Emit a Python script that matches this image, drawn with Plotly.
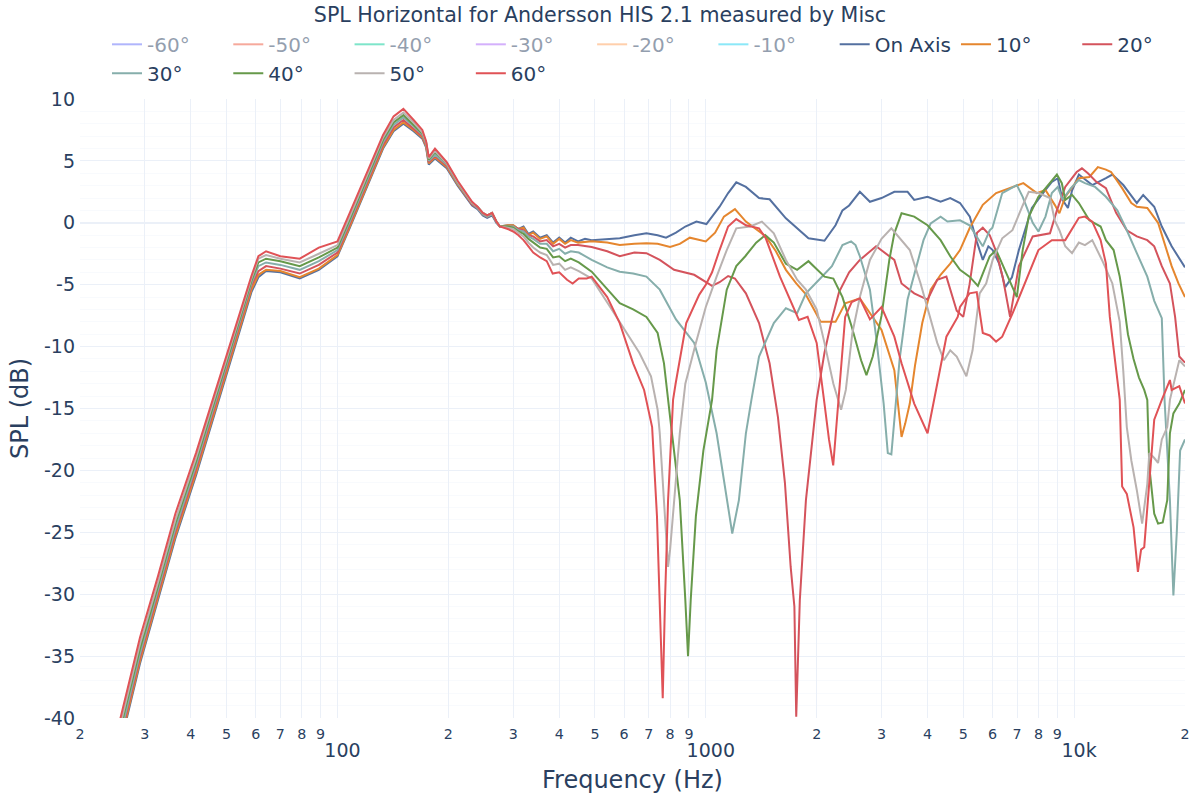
import plotly.graph_objects as go

TITLE = "SPL Horizontal for Andersson HIS 2.1 measured by Misc"

# ---------------- shared low-frequency grid (Hz) ----------------
FREQ_LOW = [25, 26.5, 29.1, 32.6, 36.3, 41.3, 46.5, 52.2, 58.4, 61,
            64, 70, 79, 89, 100, 108, 116, 125, 133, 142,
            151, 161, 170, 174, 177, 184, 198, 212, 222, 232,
            240, 248, 255, 263, 270, 276, 290, 300]

SPL_LOW_ON_AXIS = [-43.5, -40.6, -35.6, -30.5, -25.5, -20.4, -15.4, -10.4, -5.6, -4.4,
                   -3.9, -4.0, -4.5, -3.8, -2.7, -0.4, 1.8, 4.0, 6.0, 7.4,
                   8.0, 7.4, 6.8, 6.1, 4.7, 5.2, 4.4, 3.0, 2.2, 1.4,
                   1.1, 0.6, 0.4, 0.6, 0.0, -0.3, -0.2, -0.2]
SPL_LOW_10 = [-43.3, -40.4, -35.4, -30.3, -25.3, -20.2, -15.2, -10.2, -5.4, -4.2,
              -3.8, -3.9, -4.4, -3.7, -2.6, -0.3, 1.9, 4.1, 6.1, 7.5,
              8.1, 7.5, 6.9, 6.2, 4.8, 5.3, 4.5, 3.1, 2.3, 1.5,
              1.2, 0.7, 0.5, 0.7, 0.1, -0.3, -0.2, -0.2]
SPL_LOW_20 = [-43.0, -40.1, -35.1, -30.0, -25.0, -19.9, -14.9, -9.9, -5.1, -3.9,
              -3.5, -3.7, -4.1, -3.4, -2.4, -0.1, 2.1, 4.3, 6.3, 7.7,
              8.3, 7.6, 7.0, 6.3, 4.9, 5.4, 4.6, 3.2, 2.3, 1.5,
              1.2, 0.7, 0.5, 0.7, 0.1, -0.3, -0.3, -0.3]
SPL_LOW_30 = [-42.7, -39.8, -34.8, -29.7, -24.7, -19.6, -14.6, -9.6, -4.9, -3.5,
              -3.2, -3.4, -3.8, -3.1, -2.2, 0.1, 2.3, 4.5, 6.5, 7.9,
              8.5, 7.8, 7.1, 6.4, 5.0, 5.5, 4.7, 3.2, 2.4, 1.6,
              1.2, 0.7, 0.5, 0.7, 0.1, -0.3, -0.3, -0.3]
SPL_LOW_40 = [-42.4, -39.4, -34.4, -29.3, -24.3, -19.3, -14.3, -9.4, -4.7, -3.2,
              -2.9, -3.1, -3.5, -2.8, -2.0, 0.3, 2.5, 4.7, 6.7, 8.1,
              8.7, 7.9, 7.2, 6.5, 5.1, 5.7, 4.8, 3.3, 2.4, 1.6,
              1.3, 0.8, 0.6, 0.8, 0.1, -0.3, -0.3, -0.4]
SPL_LOW_50 = [-42.1, -39.0, -34.0, -29.0, -24.0, -19.0, -14.0, -9.2, -4.5, -2.9,
              -2.6, -2.9, -3.2, -2.5, -1.8, 0.5, 2.7, 4.9, 6.9, 8.3,
              8.9, 8.1, 7.3, 6.5, 5.2, 5.8, 4.8, 3.3, 2.4, 1.6,
              1.3, 0.8, 0.6, 0.8, 0.1, -0.3, -0.4, -0.5]
SPL_LOW_60 = [-41.6, -38.5, -33.5, -28.5, -23.5, -18.6, -13.7, -8.9, -4.3, -2.7,
              -2.3, -2.7, -2.9, -2.0, -1.5, 0.8, 3.0, 5.2, 7.1, 8.6,
              9.2, 8.3, 7.5, 6.6, 5.3, 6.0, 4.9, 3.4, 2.5, 1.7,
              1.3, 0.8, 0.6, 0.8, 0.1, -0.3, -0.5, -0.7]

# ---------------- above 300 Hz: per-angle grids ----------------
FREQ_HI_ON_AXIS = [310, 320, 330, 340, 355, 370, 385, 400, 415, 430,
                   450, 470, 490, 540, 584, 640, 690, 740, 780, 830,
                   880, 943, 1004, 1090, 1150, 1210, 1285, 1395, 1490, 1650,
                   1790, 1900, 2100, 2250, 2350, 2450, 2620, 2790, 3000, 3250,
                   3530, 3680, 4000, 4340, 4610, 4900, 5210, 5440, 5650, 5850,
                   6010, 6260, 6500, 6780, 7080, 7680, 8360, 8700, 9030, 9300,
                   9620, 9870, 10300, 11200, 12200, 12700, 13600, 14800, 15400, 16500,
                   17300, 18400, 20000]
SPL_HI_ON_AXIS = [-0.5, -0.3, -0.9, -0.7, -1.2, -1.0, -1.6, -1.2, -1.6, -1.2,
                  -1.5, -1.3, -1.4, -1.3, -1.25, -1.0, -0.85, -1.0, -1.2, -0.8,
                  -0.3, 0.1, -0.1, 1.3, 2.4, 3.27, 2.9, 2.0, 1.9, 0.36,
                  -0.6, -1.25, -1.45, -0.2, 1.0, 1.4, 2.5, 1.7, 2.0, 2.5,
                  2.5, 1.85, 2.1, 1.7, 2.0, 1.6, 0.5, -1.5, -3.0, -1.9,
                  -2.2, -3.3, -5.2, -4.4, -2.2, 1.2, 2.65, 3.3, 3.6, 1.85,
                  1.2, 2.6, 3.9, 3.05, 3.6, 3.9, 3.05, 1.6, 2.25, 1.3,
                  -0.3, -1.9, -3.6]

FREQ_HI_10 = [310, 320, 330, 340, 355, 370, 385, 400, 415, 430,
              450, 490, 540, 584, 640, 690, 740, 800, 850, 905,
              1000, 1060, 1120, 1200, 1285, 1395, 1455, 1550, 1650, 1760,
              1860, 1950, 2050, 2250, 2390, 2620, 2790, 3000, 3250, 3330,
              3400, 3480, 3580, 3700, 3870, 4080, 4340, 4610, 4900, 5210,
              5650, 6140, 6690, 7280, 7920, 8360, 8860, 9120, 9460, 9870,
              10300, 11000, 11600, 12200, 12600, 13500, 14300, 14800, 15800, 16900,
              17500, 18400, 19200, 20000]
SPL_HI_10 = [-0.5, -0.4, -1.0, -0.8, -1.3, -1.1, -1.7, -1.3, -1.7, -1.4,
             -1.6, -1.5, -1.6, -1.8, -1.7, -1.65, -1.7, -1.95, -1.7, -1.2,
             -1.5, -0.8, 0.5, 1.1, 0.1, -0.7, -1.1, -2.3, -3.8, -4.9,
             -5.7, -6.8, -8.0, -8.0, -6.5, -6.1, -7.3, -8.65, -11.9, -14.8,
             -17.3, -16.2, -14.6, -11.5, -8.1, -5.4, -4.2, -3.3, -2.2, -0.4,
             1.45, 2.4, 2.8, 3.2, 2.4, 2.65, 1.45, 0.77, 2.1, 2.9,
             3.6, 3.7, 4.5, 4.3, 4.1, 2.8, 1.6, 1.3, 1.2, 0.0,
             -1.5, -3.5, -4.9, -6.0]

FREQ_HI_20 = [310, 320, 330, 340, 355, 370, 385, 400, 415, 430,
              450, 490, 540, 584, 640, 690, 750, 820, 930, 1040,
              1090, 1150, 1200, 1285, 1395, 1490, 1570, 1640, 1700, 1740,
              1760, 1800, 1870, 2000, 2100, 2200, 2300, 2450, 2620, 2900,
              3250, 3400, 3680, 4000, 4250, 4500, 4800, 5000, 5200, 5450,
              5650, 5900, 6140, 6400, 6700, 7080, 7720, 8600, 8980, 9460,
              10160, 10500, 10900, 11500, 12200, 13000, 13900, 14800, 15800, 16500,
              17300, 18200, 18800, 19300, 20000]
SPL_HI_20 = [-0.5, -0.6, -1.0, -1.1, -1.5, -1.4, -1.9, -1.7, -2.0, -1.8,
             -1.8, -1.95, -2.3, -2.7, -2.4, -2.45, -3.0, -3.8, -4.2, -5.1,
             -4.8, -4.3, -4.5, -5.7, -8.1, -11.35, -15.7, -21.0, -27.8, -31.0,
             -39.9, -30.5, -22.4, -14.3, -10.5, -7.8, -5.6, -4.0, -3.0, -1.9,
             -3.0, -4.9, -5.7, -6.2, -4.6, -4.35, -7.1, -7.6, -5.0, -0.8,
             -0.4, -1.0, -2.3, -4.4, -7.6, -3.5, -1.1, -0.85, 1.0, 2.9,
             4.1, 4.4, 4.0, 3.3, 2.8, 0.8, -0.6, -1.1, -1.4, -1.9,
             -3.5, -4.9, -7.6, -10.8, -11.3]

FREQ_HI_30 = [310, 320, 330, 340, 355, 370, 385, 400, 415, 430,
              452, 490, 540, 584, 635, 690, 750, 830, 930, 1000,
              1070, 1140, 1180, 1230, 1285, 1330, 1395, 1530, 1650, 1770,
              1870, 2030, 2200, 2350, 2480, 2550, 2620, 2790, 2900, 3040,
              3120, 3190, 3290, 3360, 3530, 3750, 3900, 4080, 4340, 4530,
              4900, 5200, 5440, 5650, 5900, 6000, 6380, 6800, 6990, 7250,
              7720, 8000, 8360, 8700, 9030, 9300, 9800, 10300, 10700, 11400,
              12200, 13100, 13900, 14800, 15800, 16500, 16900, 17300, 17600, 18200,
              18600, 19000, 19400, 20000]
SPL_HI_30 = [-0.6, -0.7, -1.1, -1.3, -1.7, -1.7, -2.3, -2.1, -2.5, -2.3,
             -2.4, -3.0, -3.6, -3.95, -4.1, -4.35, -5.4, -7.8, -9.7, -12.9,
             -17.0, -22.4, -25.1, -22.4, -17.0, -14.3, -10.8, -8.1, -6.9, -7.3,
             -5.7, -4.6, -3.5, -1.8, -1.5, -1.8, -2.7, -5.4, -9.2, -14.6,
             -18.6, -18.7, -14.3, -11.0, -6.2, -3.3, -1.4, -0.05, 0.5, 0.1,
             0.2, -0.2, -1.1, -1.9, -0.6, -0.4, 2.4, 2.9, 3.05, 2.1,
             0.0, -0.7, 0.5, 2.4, 2.9, 1.85, 2.8, 3.45, 3.2, 2.9,
             2.1, 1.0, -0.6, -2.45, -4.35, -6.3, -7.0, -7.7, -14.3, -22.4,
             -30.1, -25.0, -18.4, -17.5]

FREQ_HI_40 = [310, 320, 330, 340, 355, 370, 385, 400, 415, 430,
              452, 490, 540, 584, 635, 690, 740, 770, 800, 850,
              880, 895, 910, 940, 985, 1040, 1070, 1140, 1210, 1280,
              1370, 1450, 1530, 1650, 1770, 1900, 2100, 2220, 2350, 2490,
              2640, 2730, 2840, 3000, 3150, 3250, 3400, 3680, 4000, 4340,
              4610, 4900, 5200, 5480, 5650, 5900, 6140, 6380, 6680, 6990,
              7250, 7530, 8000, 8600, 8980, 9260, 9460, 9870, 10300, 11000,
              11800, 12200, 12800, 13300, 13600, 14000, 14500, 15000, 15500, 15800,
              16000, 16500, 16900, 17400, 17900, 18200, 18600, 19300, 20000]
SPL_HI_40 = [-0.7, -0.9, -1.3, -1.6, -2.0, -2.1, -2.8, -2.7, -3.1, -2.9,
             -3.2, -3.95, -5.4, -6.5, -7.0, -7.6, -8.9, -11.35, -15.7, -22.4,
             -30.5, -35.0, -30.5, -23.7, -18.4, -14.3, -10.3, -5.4, -3.5, -2.7,
             -1.6, -1.0, -1.6, -3.3, -3.8, -3.1, -4.35, -4.5, -6.0, -8.4,
             -11.1, -12.3, -10.8, -7.5, -3.0, -0.85, 0.77, 0.5, -0.2, -1.4,
             -2.7, -3.8, -4.35, -5.1, -4.1, -2.7, -2.2, -3.3, -4.6, -6.0,
             -2.2, 0.5, 2.1, 3.2, 3.9, 3.2, 1.85, 2.26, 1.6, 0.2,
             -0.3, -1.4, -2.2, -4.35, -6.2, -9.0, -11.0, -12.5, -13.5, -14.3,
             -19.7, -23.5, -24.3, -24.2, -22.4, -17.0, -15.4, -14.6, -13.5]

FREQ_HI_50 = [310, 320, 330, 340, 355, 370, 385, 400, 415, 430,
              452, 490, 550, 610, 660, 710, 740, 750, 770, 790,
              800, 820, 850, 870, 880, 940, 1000, 1070, 1140, 1210,
              1320, 1420, 1530, 1650, 1770, 1870, 2000, 2100, 2220, 2330,
              2400, 2500, 2620, 2790, 3000, 3190, 3360, 3580, 3830, 4000,
              4250, 4430, 4610, 4800, 5100, 5300, 5540, 5770, 6010, 6380,
              6800, 7250, 7530, 8000, 8600, 8860, 9120, 9460, 9870, 10300,
              10700, 11200, 11900, 12700, 13300, 13600, 13900, 14300, 14800, 15300,
              15800, 16000, 16500, 16900, 17300, 17900, 18200, 19300, 20000]
SPL_HI_50 = [-0.8, -1.1, -1.6, -2.0, -2.4, -2.6, -3.4, -3.3, -3.8, -3.6,
             -3.9, -4.5, -6.8, -8.9, -10.5, -12.4, -15.1, -17.0, -22.4, -27.8,
             -26.4, -22.4, -17.0, -14.3, -13.0, -9.7, -6.8, -4.35, -2.2, -0.45,
             -0.3, 0.1, -0.85, -3.0, -4.6, -5.4, -7.0, -9.7, -13.0, -15.1,
             -13.5, -8.9, -6.0, -3.0, -1.3, -0.45, -1.25, -2.2, -4.9, -7.0,
             -9.7, -11.1, -10.3, -10.8, -12.4, -10.3, -5.7, -4.9, -3.0, -1.25,
             -0.6, 1.4, 2.5, 2.4, 2.0, 0.2, -0.6, -1.9, -2.45, -1.6,
             -1.8, -1.4, -3.0, -4.9, -8.0, -12.0, -16.5, -19.2, -21.6, -24.3,
             -21.1, -18.6, -19.0, -19.4, -17.5, -16.5, -14.3, -11.1, -11.6]

FREQ_HI_60 = [310, 320, 330, 340, 355, 370, 384, 400, 420, 435,
              452, 475, 490, 540, 584, 635, 680, 715, 737, 750,
              764, 775, 790, 815, 828, 885, 960, 1000, 1040, 1090,
              1150, 1210, 1285, 1395, 1455, 1590, 1730, 1790, 1890, 2000,
              2100, 2160, 2218, 2290, 2310, 2390, 2490, 2620, 2790, 3000,
              3250, 3400, 3680, 4000, 4250, 4500, 4830, 4900, 5200, 5440,
              5650, 5900, 6140, 6380, 6810, 7400, 8000, 8700, 9460, 10300,
              10700, 11200, 11800, 12200, 12500, 13300, 13500, 13900, 14500, 14900,
              15200, 15500, 16000, 16500, 17300, 18200, 18400, 19300, 20000]
SPL_HI_60 = [-1.0, -1.4, -1.9, -2.4, -2.8, -3.1, -4.1, -4.0, -4.6, -4.9,
             -4.5, -4.5, -4.35, -6.0, -8.1, -11.35, -13.5, -16.5, -23.7, -30.5,
             -38.4, -30.5, -22.4, -14.3, -13.0, -8.1, -5.8, -5.0, -4.0, -2.2,
             -0.3, 0.3, -0.2, -0.45, -1.25, -4.35, -6.8, -7.85, -7.6, -9.7,
             -14.6, -17.5, -19.6, -14.3, -13.0, -7.6, -6.4, -6.1, -7.8, -6.8,
             -9.2, -11.35, -14.6, -17.0, -13.0, -9.2, -7.6, -6.8, -5.7, -5.6,
             -8.9, -9.1, -9.6, -9.2, -7.3, -4.6, -2.2, -1.4, -1.4, 0.4,
             0.5, 0.1, -1.4, -3.3, -7.6, -14.3, -21.3, -21.9, -24.6, -28.2,
             -26.4, -26.2, -21.1, -15.9, -14.3, -12.7, -13.5, -13.2, -14.6]

# ---------------- legend / series / tick definitions ----------------
ANGLE_LABELS = ["-60°", "-50°", "-40°", "-30°", "-20°", "-10°",
                "On Axis", "10°", "20°", "30°", "40°", "50°", "60°"]
HIDDEN_COLORS = ["#636efa", "#EF553B", "#00cc96", "#ab63fa", "#FFA15A", "#19d3f3"]
VISIBLE_COLORS = ["#5470a0", "#e5862e", "#d4535c", "#86aeab", "#66994a", "#b9b2b0", "#e05256"]

Y_TICKS = [-40, -35, -30, -25, -20, -15, -10, -5, 0, 5, 10]
Y_TICK_TEXT = ["-40", "-35", "-30", "-25", "-20", "-15", "-10", "-5", "0", "5", "10"]

# digit ticks (2..9 of each decade); decade ticks carry the bigger labels
X_TICKS = [20, 30, 40, 50, 60, 70, 80, 90,
           100, 200, 300, 400, 500, 600, 700, 800, 900,
           1000, 2000, 3000, 4000, 5000, 6000, 7000, 8000, 9000,
           10000, 20000]
X_TICK_TEXT = ["2", "3", "4", "5", "6", "7", "8", "9",
               "", "2", "3", "4", "5", "6", "7", "8", "9",
               "", "2", "3", "4", "5", "6", "7", "8", "9",
               "", "2"]
X_DECADES = [100, 1000, 10000]
X_DECADE_TEXT = ["100", "1000", "10k"]

series_low = [SPL_LOW_ON_AXIS, SPL_LOW_10, SPL_LOW_20, SPL_LOW_30, SPL_LOW_40, SPL_LOW_50, SPL_LOW_60]
series_hi_f = [FREQ_HI_ON_AXIS, FREQ_HI_10, FREQ_HI_20, FREQ_HI_30, FREQ_HI_40, FREQ_HI_50, FREQ_HI_60]
series_hi_v = [SPL_HI_ON_AXIS, SPL_HI_10, SPL_HI_20, SPL_HI_30, SPL_HI_40, SPL_HI_50, SPL_HI_60]

curves = []
for lo, hf, hv in zip(series_low, series_hi_f, series_hi_v):
    assert len(lo) == len(FREQ_LOW), (len(lo), len(FREQ_LOW))
    assert len(hf) == len(hv), (len(hf), len(hv))
    curves.append((FREQ_LOW + hf, lo + hv))

FONT = "DejaVu Sans"
X_RANGE = [1.30103, 4.30103]
fig = go.Figure()

# hidden negative angles (mirror of the positive ones: 60,50,...,10)
for i, label in enumerate(ANGLE_LABELS[:6]):
    src = curves[6 - i]
    fig.add_trace(go.Scatter(x=src[0], y=src[1], name=label, mode="lines",
                             line=dict(color=HIDDEN_COLORS[i], width=2),
                             visible="legendonly"))

for i, label in enumerate(ANGLE_LABELS[6:]):
    fx, fy = curves[i]
    fig.add_trace(go.Scatter(x=fx, y=fy, name=label, mode="lines",
                             line=dict(color=VISIBLE_COLORS[i], width=2)))

# empty helper trace so the decade-label axis (x2) gets drawn
fig.add_trace(go.Scatter(x=X_DECADES, y=[None] * len(X_DECADES), xaxis="x2", yaxis="y",
                         mode="lines", showlegend=False, hoverinfo="skip"))

fig.update_layout(
    template="plotly_white",
    width=1200, height=800,
    font=dict(family=FONT, color="#2a3f5f"),
    title=dict(text=TITLE, x=0.5, xref="container", xanchor="center",
               y=0.98125, yanchor="middle",
               font=dict(size=20.6, family=FONT)),
    margin=dict(l=80, r=15, t=99, b=82, autoexpand=False),
    legend=dict(orientation="h", x=0.5, xanchor="center", y=1.01, yanchor="bottom",
                font=dict(size=20, family=FONT)),
    showlegend=True,
    xaxis=dict(type="log", range=X_RANGE, tickmode="array",
               tickvals=X_TICKS, ticktext=X_TICK_TEXT, automargin=False,
               title=dict(text="Frequency (Hz)", font=dict(size=24), standoff=29),
               tickfont=dict(size=14.25), ticklabelstandoff=6, showgrid=True),
    xaxis2=dict(type="log", range=X_RANGE, overlaying="x", anchor="y", side="bottom",
                tickmode="array", tickvals=X_DECADES, ticktext=X_DECADE_TEXT,
                tickfont=dict(size=19), ticklabelstandoff=19, ticklabelshift=5,
                showgrid=False, zeroline=False, showline=False, automargin=False),
    yaxis=dict(range=[-40, 10], tickvals=Y_TICKS, ticktext=Y_TICK_TEXT, automargin=False,
               title=dict(text="SPL (dB)", font=dict(size=24), standoff=8),
               tickfont=dict(size=19), ticklabelstandoff=4, showgrid=True,
               minor=dict(dtick=1, showgrid=True)),
)

fig.write_html("out.html", config={"displayModeBar": False},
               post_script="document.body.style.margin='0px';")
